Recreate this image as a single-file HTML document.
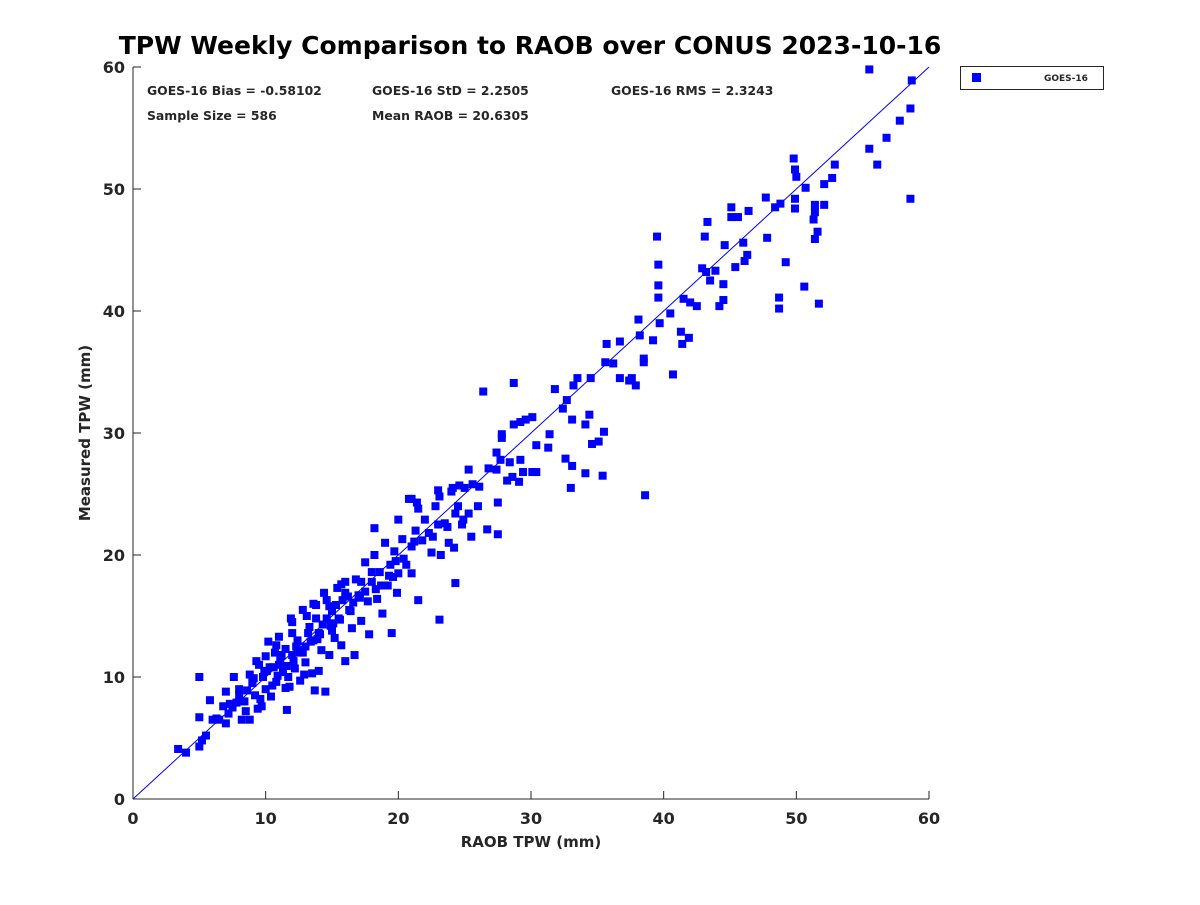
<!DOCTYPE html>
<html><head><meta charset="utf-8"><style>
body{margin:0;background:#fff;}
svg text{font-family:"DejaVu Sans","Liberation Sans",sans-serif;font-weight:bold;fill:#262626;}
</style></head><body>
<svg id="chart" width="1200" height="900" xmlns="http://www.w3.org/2000/svg">
<rect width="1200" height="900" fill="#fff"/>
<text x="530" y="54" font-size="25" text-anchor="middle" fill="#000" style="fill:#000">TPW Weekly Comparison to RAOB over CONUS 2023-10-16</text>
<g id="axes"></g>
<g id="points"></g>
<g font-size="12.4">
<text x="147" y="95">GOES-16 Bias = -0.58102</text>
<text x="372" y="95">GOES-16 StD = 2.2505</text>
<text x="611" y="95">GOES-16 RMS = 2.3243</text>
<text x="147" y="120">Sample Size = 586</text>
<text x="372" y="120">Mean RAOB = 20.6305</text>
</g>
<g>
<rect x="960.5" y="66.5" width="143" height="23" fill="#fff" stroke="#262626" stroke-width="1"/>
<rect x="972" y="73" width="9" height="9" fill="#0000ff"/>
<text x="1044" y="81" font-size="9">GOES-16</text>
</g>
<text x="531" y="847" font-size="15" text-anchor="middle">RAOB TPW (mm)</text>
<text x="90" y="433" font-size="15" text-anchor="middle" transform="rotate(-90 90 433)">Measured TPW (mm)</text>
</svg>
<script>
const xTicks=[0,10,20,30,40,50,60];
const yTicks=[0,10,20,30,40,50,60];
const raob=[55.5,58.7,58.6,57.8,56.8,55.5,56.1,52.9,52.7,52.1,49.8,49.9,50.0,50.7,58.6,49.9,48.8,48.4,47.7,49.9,52.1,51.4,51.4,51.3,51.6,51.4,46.4,45.1,45.1,45.6,43.3,43.1,46.0,44.6,47.8,46.3,46.1,49.2,45.4,42.9,43.2,43.9,43.5,44.5,48.7,48.7,50.6,51.7,41.5,42.0,42.5,44.2,44.5,39.5,39.6,39.6,39.6,40.5,39.7,38.1,41.3,41.9,41.4,39.2,38.2,36.7,35.7,35.6,36.2,38.5,38.5,40.7,36.7,34.5,37.6,37.4,37.9,33.5,33.2,31.8,28.7,26.4,32.7,32.4,34.4,30.1,29.6,29.2,28.7,34.1,33.1,31.4,35.5,27.8,27.8,35.1,34.6,30.4,31.3,27.4,27.7,29.2,28.4,32.6,33.1,26.8,27.4,30.1,30.4,29.4,34.1,35.4,28.6,28.2,29.1,33.0,38.6,25.3,24.6,26.1,27.5,27.5,26.7,24.3,23.0,24.3,23.1,21.5,19.9,21.0,19.5,16.7,18.2,23.1,21.0,21.4,24.1,
3.4,4.0,5.0,5.2,5.5,5.0,6.0,6.5,5.0,5.8,7,7.2,7.5,7,7.6,8,8.3,8.5,8.8,9,9.2,9.4,9.5,9.8,10,10,10.2,10.4,10.6,10.8,11,11,11.3,11.5,11.6,11.8,12,12,12.2,12.4,12.6,12.8,13,13,13.3,13.5,13.7,13.8,14,14.2,14.4,14.5,14.6,14.8,15,15.2,15.4,15.5,15.7,15.8,16,16,16.3,16.5,16.8,17,17.2,17.5,17.7,17.8,18,18.2,18.4,18.6,18.8,19,19.2,19.4,19.7,20,20,20.3,20.6,20.8,21,21.3,21.5,21.8,22,22.3,22.5,22.8,23,23.2,23.5,23.8,24,24.2,24.5,24.8,25,25.3,25.6,26,24.9,25.5,8.2,9.6,6.8,8,10.7,11.7,12.8,13.6,14,15,16.2,17.2,18,19.8,7.8,9.1,10.1,11.2,12.3,13.2,14.3,15.3,16.6,17.5,18.7,19.3,21.2,9.3,10.8,12,13.8,14.8,16,11.5,12.9,10.5,9.7,8.8,13.1,14.6,11.9,13.6,15.7,
10.3,11.1,12.5,13.4,14.1,15.1,9.0,9.9,11.6,12.7,14.9,16.4,17.1,18.3,19.6,20.4,22.6,23.7,8.6,10.9,12.1,13.9,15.6,6.3,7.3,8.4];
const measured=[59.8,58.9,56.6,55.6,54.2,53.3,52.0,52.0,50.9,50.4,52.5,51.6,51.0,50.1,49.2,49.2,48.8,48.5,49.3,48.4,48.7,48.7,48.1,47.5,46.5,45.9,48.2,48.5,47.7,47.7,47.3,46.1,45.6,45.4,46.0,44.6,44.1,44.0,43.6,43.5,43.2,43.3,42.5,42.2,41.1,40.2,42.0,40.6,41.0,40.7,40.4,40.4,40.9,46.1,43.8,42.1,41.1,39.8,39.0,39.3,38.3,37.8,37.3,37.6,38.0,37.5,37.3,35.8,35.7,36.1,35.8,34.8,34.5,34.5,34.5,34.3,33.9,34.5,33.9,33.6,34.1,33.4,32.7,32.0,31.5,31.3,31.1,30.9,30.7,30.7,31.1,29.9,30.1,29.9,29.6,29.3,29.1,29.0,28.8,28.4,27.8,27.8,27.6,27.9,27.3,27.1,27.0,26.8,26.8,26.8,26.7,26.5,26.4,26.1,26.0,25.5,24.9,27.0,25.7,25.6,24.3,21.7,22.1,23.4,22.5,17.7,14.7,16.3,16.9,18.5,13.6,11.8,22.2,24.8,24.6,24.3,25.5,
4.1,3.8,4.3,4.8,5.2,6.7,6.5,6.5,10.0,8.1,6.2,7.0,7.5,8.8,10,9,8,7.2,10.2,9.5,8.5,7.4,11,10,9,11.7,12.9,8.4,10.8,9.6,13.3,11,10.4,12.3,7.3,9.2,14.5,11.8,10.7,13,9.7,15.5,12.5,11.2,14.1,10.3,8.9,15.9,13.6,12.2,16.9,8.8,14.8,11.8,15.4,13.2,17.3,14.8,12.6,16.3,11.3,17.8,15.5,14,18,16.7,14.6,19.4,16.2,13.5,17.8,20,16.4,18.6,15.2,21,17.5,19.2,20.3,18.5,22.9,21.3,19.2,24.6,20.7,22,23.8,21.2,22.9,21.8,20.2,24,25.3,20,22.6,21,25.2,20.6,24,22.5,25.5,23.4,25.8,24,22.9,21.5,6.5,8.2,7.6,8.5,12,10,12,13,10.5,13.8,16.6,17.8,18.6,19.5,7.9,9.9,10.5,11.8,12.5,13.6,14.3,15.9,16.1,17,17.5,18.3,21.1,11.3,12.6,13.6,14.8,15.8,16.9,9.1,10.2,9.3,7.6,6.5,15,16.3,14.8,16,17.6,
10.8,11.5,12.0,12.9,13.5,14.4,9.6,10.4,10.9,12.2,14.2,15.4,16.5,17.2,18.2,19.7,21.5,22.3,8.9,10.1,11.3,13.1,14.7,6.6,7.8,8.0];
const X0=133,X1=929,Y0=799,Y1=67;
const xs=v=>X0+(v/60)*(X1-X0);
const ys=v=>Y0-(v/60)*(Y0-Y1);
const NS="http://www.w3.org/2000/svg";
const ax=document.getElementById('axes');
function mk(tag,attrs,parent){const e=document.createElementNS(NS,tag);for(const k in attrs)e.setAttribute(k,attrs[k]);parent.appendChild(e);return e;}
let l=mk('line',{x1:X0,y1:Y0,x2:X1,y2:Y0,stroke:'#262626','stroke-width':1},ax);


l=mk('line',{x1:X0,y1:Y0,x2:X0,y2:Y1,stroke:'#262626','stroke-width':1},ax);


xTicks.forEach(t=>{
  const tk=mk('line',{x1:xs(t),y1:Y0,x2:xs(t),y2:Y0-8,stroke:'#262626'},ax);
  
  
  const tx=mk('text',{x:xs(t),y:Y0+25,'font-size':16,'text-anchor':'middle'},ax);
  tx.textContent=t;
  
  
});
yTicks.forEach(t=>{
  const tk=mk('line',{x1:X0,y1:ys(t),x2:X0+8,y2:ys(t),stroke:'#262626'},ax);
  
  
  const tx=mk('text',{x:X0-8,y:ys(t)+6,'font-size':16,'text-anchor':'end'},ax);
  tx.textContent=t;
  
  
});
const ref=mk('line',{x1:xs(0),y1:ys(0),x2:xs(60),y2:ys(60),stroke:'#0000ff','stroke-width':1},ax);


const pg=document.getElementById('points');
for(let i=0;i<raob.length;i++){
  const r=mk('rect',{x:xs(raob[i])-4,y:ys(measured[i])-4,width:8,height:8,fill:'#0000ff'},pg);
  
  
}
</script>
</body></html>
